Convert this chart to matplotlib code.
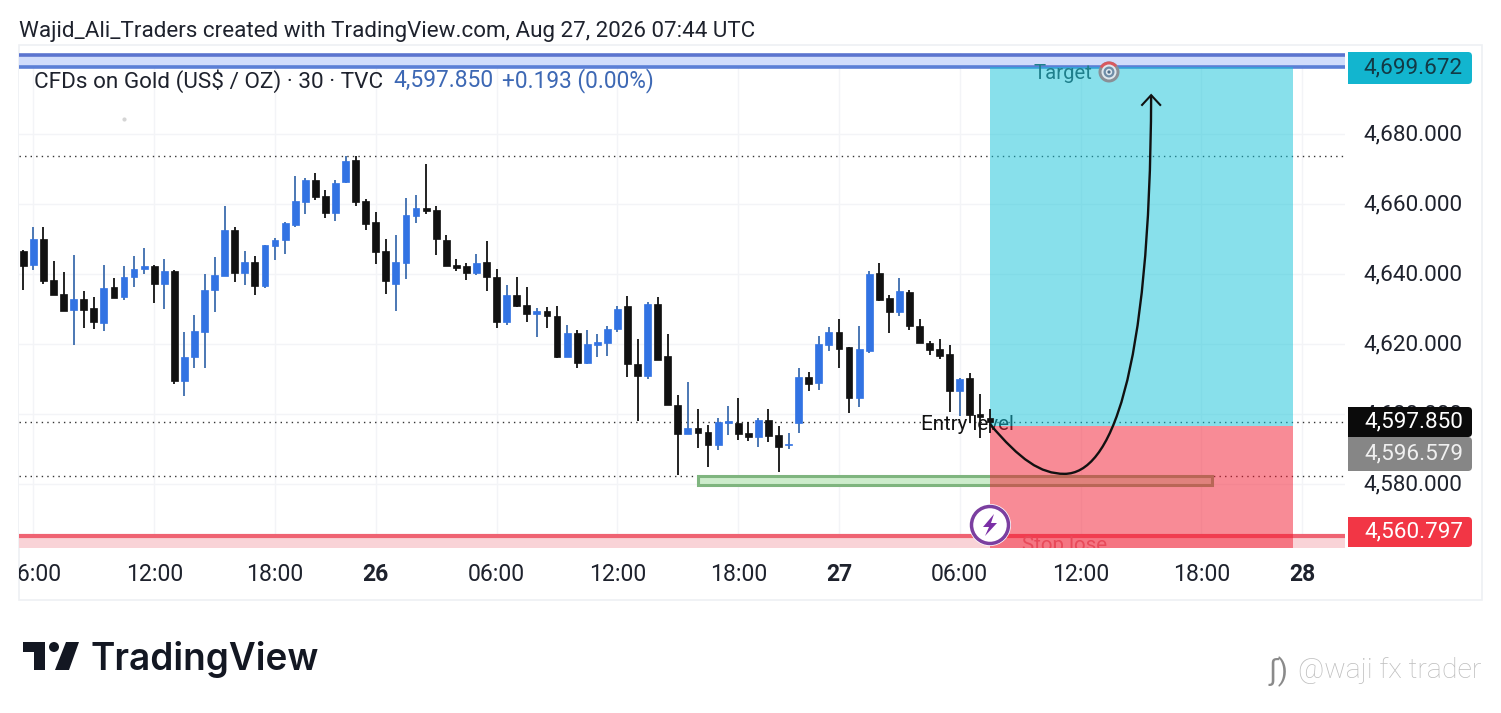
import matplotlib
matplotlib.use("Agg")
import matplotlib.pyplot as plt
from matplotlib.patches import Rectangle, PathPatch, Polygon, Circle, FancyBboxPatch, Wedge
from matplotlib.path import Path
from matplotlib.transforms import Bbox, ScaledTranslation

plt.rcParams['font.family'] = ['Roboto', 'DejaVu Sans']

# candle index, from the first visible 30-minute bar
opens = [4646.6,4642.6,4650.0,4638.3,4634.3,4629.8,4632.9,4630.3,4626.1,4636.3,4633.5,4639.0,4641.3,4642.3,4637.0,4640.9,4609.5,4616.4,4623.5,4635.3,4639.5,4652.6,4640.4,4643.4,4636.7,4648.1,4649.8,4654.1,4660.7,4666.9,4662.3,4657.3,4666.3,
 4672.5,4660.8,4654.8,4646.5,4637.1,4643.1,4656.5,4658.8,4658.3,4649.7,4642.5,4642.3,4640.2,4643.4,4639.1,4626.3,4634.0,4631.1,4628.5,4629.4,4628.0,4616.3,4623.1,4614.5,4619.7,4620.3,4624.3,4630.8,4614.3,4610.8,4631.4,
 4616.6,4602.6,4594.3,4596.0,4594.9,4591.2,4597.5,4597.5,4594.6,4593.5,4598.3,4594.0,4591.0,4597.5,4610.6,4608.9,4619.8,4623.5,4619.2,4604.6,4618.0,4640.3,4633.2,4629.2,4634.9,4625.2,4620.3,4618.6,4617.2,4606.6,4610.3,4600.0,4598.8]
closes = [4642.4,4650.0,4638.1,4634.1,4629.5,4632.9,4629.8,4626.4,4636.0,4633.2,4639.2,4641.4,4642.3,4637.0,4640.9,4609.5,4616.3,4623.7,4635.4,4639.7,4652.6,4640.4,4643.4,4636.7,4648.3,4649.7,4654.6,4660.9,4666.9,4662.1,4657.5,4666.0,4672.3,
 4660.5,4654.3,4646.3,4638.0,4643.4,4656.8,4658.8,4658.0,4650.0,4642.3,4641.7,4640.3,4643.1,4639.1,4626.3,4634.0,4630.8,4628.5,4629.4,4628.0,4616.3,4623.1,4614.5,4620.0,4620.5,4624.3,4630.0,4614.3,4610.8,4631.4,4615.4,
 4602.6,4594.3,4596.0,4594.6,4591.2,4597.8,4597.8,4594.3,4593.5,4598.3,4593.8,4590.6,4591.4,4610.6,4608.6,4620.0,4623.5,4618.6,4604.6,4618.6,4640.0,4632.5,4629.2,4635.2,4625.2,4620.3,4618.3,4616.6,4606.6,4610.0,4599.8,4599.0,4597.85]
highs = [4646.8,4653.5,4653.4,4643.7,4640.6,4645.5,4635.2,4633.4,4642.6,4638.9,4642.4,4645.2,4647.4,4642.5,4644.4,4641.1,4623.4,4628.3,4640.0,4644.9,4659.4,4653.4,4646.7,4645.2,4648.3,4650.4,4654.9,4668.0,4667.4,4668.9,4664.0,4666.9,4673.7,
 4673.7,4661.4,4657.7,4650.0,4651.1,4661.7,4662.5,4671.4,4659.4,4651.1,4644.3,4643.1,4645.7,4649.4,4641.4,4636.8,4639.1,4636.3,4630.3,4630.5,4630.8,4625.4,4624.0,4624.0,4622.8,4625.1,4630.8,4633.7,4621.4,4632.0,4633.4,
 4622.8,4605.5,4609.2,4601.5,4596.9,4598.9,4602.3,4604.6,4597.8,4598.9,4601.5,4596.6,4594.6,4613.2,4612.0,4622.3,4624.9,4627.2,4619.2,4625.2,4640.9,4643.2,4634.0,4638.9,4635.5,4627.2,4620.9,4621.5,4619.8,4610.3,4611.8,4605.8,4601.5]
lows = [4635.4,4641.0,4637.0,4634.1,4629.5,4619.7,4624.6,4624.3,4623.7,4633.0,4632.7,4636.4,4640.0,4631.8,4630.0,4608.6,4605.2,4613.2,4613.2,4629.2,4639.5,4637.7,4636.9,4634.0,4636.1,4644.0,4645.7,4653.3,4657.2,4661.2,4656.0,4655.2,4666.0,
 4659.4,4652.5,4642.8,4634.3,4629.4,4638.5,4654.5,4657.1,4645.4,4642.3,4640.8,4638.3,4639.7,4635.1,4624.5,4625.4,4630.5,4626.3,4622.0,4624.5,4616.0,4616.3,4613.1,4614.3,4616.2,4616.5,4623.4,4610.5,4598.0,4609.9,4615.4,
 4602.5,4582.6,4594.3,4590.3,4584.9,4589.8,4594.0,4592.6,4592.3,4590.6,4592.0,4583.5,4590.0,4594.6,4606.6,4606.9,4618.0,4613.2,4600.3,4602.0,4617.5,4632.3,4623.2,4628.0,4624.0,4620.3,4616.9,4615.8,4600.6,4599.3,4597.5,4593.2,4594.6]
# colour is decided per bar: blue bars were read as rising
rising = [0,1,0,0,0,1,0,0,1,0,1,1,1,0,1,0,1,1,1,1,1,0,1,0,1,1,1,1,1,0,0,1,1,
 0,0,0,0,1,1,1,0,0,0,0,0,1,0,0,1,0,0,1,0,0,1,0,1,1,1,1,0,0,1,0,
 0,0,1,0,0,1,1,0,0,1,0,0,1,1,0,1,1,0,0,1,1,0,0,1,0,0,0,0,0,1,0,0,0]

x_ticks = [1,13,25,35,47,59,71,81,93,105,117,127]
x_labels = ['06:00','12:00','18:00','26','06:00','12:00','18:00','27','06:00','12:00','18:00','28']
bold_labels = ['26','27','28']
y_ticks = [4580,4600,4620,4640,4660,4680]
dotted_levels = [4673.7,4597.7,4582.3]

target_band = (4699.14,4702.6)
stop_band = (4561.71,4565.1)
entry_price = 4596.6
box_span = (96.0,126.1)
zone_span = (67.0,118.0)
zone_prices = (4579.7,4582.3)
curve_x = [96.0,99.0,101.0,103.4,107.9,111.9,112.0]
curve_y = [4597.1,4586.9,4582.9,4582.9,4582.9,4609.7,4691.1]
arrow_x = [111.1,112.0,112.9]
arrow_y = [4688.3,4691.1,4688.3]

W,H = 1501,713
fig = plt.figure(figsize=(W/100,H/100),dpi=100,facecolor='white')
L,R,T,B = 19,1345,53,548
ax = fig.add_axes([L/W,1-B/H,(R-L)/W,(B-T)/H])
ax.set_xlim((L-23.3)/10.07,(R-23.3)/10.07)
ax.set_ylim(4561.71,4703.14)
for s in ax.spines.values():
    s.set_visible(False)
ax.set_axisbelow(True)

ax.set_xticks(x_ticks)
ax.set_xticklabels(x_labels,fontsize=16.6,color='#1e222d')
ax.yaxis.tick_right()
ax.set_yticks(y_ticks)
ax.set_yticklabels([f'{v:,.3f}' for v in y_ticks],fontsize=16.2,color='#1e222d')
ax.tick_params(axis='x',length=0,pad=11)
ax.tick_params(axis='y',length=0,pad=13)
ax.grid(True,color='#f3f4f7',lw=1)
clip = Bbox([[L,0],[W,H]])
for lab in ax.get_xticklabels():
    lab.set_clip_box(clip)
    lab.set_clip_on(True)
    if lab.get_text() in bold_labels:
        lab.set_fontweight('bold')
up_shift = ScaledTranslation(0,0.02,fig.dpi_scale_trans)
for lab in ax.get_yticklabels():
    lab.set_transform(lab.get_transform()+up_shift)

for lv in dotted_levels:
    ax.axhline(lv,color='#333333',lw=1,ls=(0,(1,3)),zorder=1.5)

ax.plot([10.0],[4684.3],marker='o',ms=2,color='#d5d5d5',zorder=1.6)

# bands
ax.axhspan(*target_band,facecolor='#d0dcfb',edgecolor='none',zorder=1)
ax.axhline(target_band[0],color='#5b7fd6',lw=2.6,zorder=3.2)
ax.axhline(target_band[1],color='#5b74cf',lw=2.6,zorder=3.2)
ax.axhspan(*stop_band,facecolor='#f9d3d7',edgecolor='none',zorder=1)
ax.axhline(stop_band[1],color='#ef6373',lw=3,zorder=3.2)

# support zone, seen through the position box
ax.add_patch(Rectangle((zone_span[0],zone_prices[0]),zone_span[1]-zone_span[0],zone_prices[1]-zone_prices[0],
                       facecolor='#cdeccc',edgecolor='#7fb57f',lw=2.2,zorder=3))
ax.text(93.8,4597.0,'Entry level',fontsize=14.8,color='#111111',ha='center',va='center',zorder=3.1)

# position box
ax.add_patch(Rectangle((box_span[0],entry_price),box_span[1]-box_span[0],target_band[0]-entry_price,
                       facecolor='#13c3d9',alpha=0.5,edgecolor='none',zorder=3.5))
ax.add_patch(Rectangle((box_span[0],stop_band[0]),box_span[1]-box_span[0],entry_price-stop_band[0],
                       facecolor='#f3192f',alpha=0.5,edgecolor='none',zorder=3.5))

# candles
for i,(o,h,l,c,up) in enumerate(zip(opens,highs,lows,closes,rising)):
    body = '#3273e3' if up else '#111111'
    wick = '#3d6cae' if up else '#111111'
    ax.plot([i,i],[l,h],color=wick,lw=1.3,solid_capstyle='butt',zorder=4)
    ax.add_patch(Rectangle((i-0.34,min(o,c)),0.68,max(abs(c-o),0.4),facecolor=body,edgecolor=body,lw=0.5,zorder=5))

# projected path
verts = list(zip(curve_x,curve_y))
ax.add_patch(PathPatch(Path(verts,[Path.MOVETO]+[Path.CURVE4]*6),facecolor='none',edgecolor='#111111',lw=1.7,zorder=7))
ax.plot(arrow_x,arrow_y,color='#111111',lw=1.5,zorder=7,solid_joinstyle='miter')

ax.text(103.2,4697.2,'Target',fontsize=14.6,color='#1f7f8c',ha='center',va='center',zorder=8,clip_on=False)
ax.text(103.4,4562.4,'Stop lose',fontsize=14.8,color='#e84a5a',ha='center',va='center',zorder=8,clip_on=True)

ax.text(.0116,.9435,'CFDs on Gold (US$ / OZ) · 30 · TVC',transform=ax.transAxes,fontsize=16.2,color='#1e222d',va='center',zorder=9)
ax.text(.2825,.9435,'4,597.850',transform=ax.transAxes,fontsize=16.4,color='#3d68b4',va='center',zorder=9)
ax.text(.3645,.9435,'+0.193 (0.00%)',transform=ax.transAxes,fontsize=16.3,color='#3d68b4',va='center',zorder=9)

# figure-level pieces, positioned in pixels from the top-left
def px(x,y):
    return x/W,1-y/H

fig.add_artist(Rectangle(px(19,600),(1482-19)/W,(600-45)/H,transform=fig.transFigure,facecolor='none',edgecolor='#eef0f3',lw=1.2,zorder=-1))
fig.text(*px(19,31.5),'Wajid_Ali_Traders created with TradingView.com, Aug 27, 2026 07:44 UTC',fontsize=16.15,color='#1e222d',va='center')

def badge(y0,y1,color,label,tc):
    fig.add_artist(FancyBboxPatch((1348,H-y1),124,y1-y0,transform=None,
        boxstyle='round,pad=0,rounding_size=4',facecolor=color,edgecolor='none',zorder=4))
    fig.add_artist(Rectangle((1348,H-y1),10,y1-y0,transform=None,facecolor=color,edgecolor='none',zorder=4))
    fig.text(*px(1463,(y0+y1)/2),label,fontsize=16.2,color=tc,ha='right',va='center',zorder=5)

badge(437,471,'#868686','4,596.579','#f0f0f0')
badge(407,437,'#0b0b0b','4,597.850','#ffffff')
badge(52,84,'#12b5cf','4,699.672','#123a46')
badge(517,547,'#f23645','4,560.797','#ffffff')

# target glyph
tx,ty = 1109,72
fig.add_artist(Circle((tx,H-ty),10.5,transform=None,facecolor='#8a8f96',edgecolor='none',zorder=6))
fig.add_artist(Wedge((tx,H-ty),10.5,40,150,transform=None,facecolor='#d9595f',edgecolor='none',zorder=6))
for r,c in ((7.5,'#dfe8ee'),(5.5,'#6f8ea8'),(3.2,'#dfe8ee'),(1.6,'#4f6d88')):
    fig.add_artist(Circle((tx,H-ty),r,transform=None,facecolor=c,edgecolor='none',zorder=6))

# lightning badge
cx,cy = 990,525
fig.add_artist(Circle((cx,H-cy),21,transform=None,facecolor='white',edgecolor='none',zorder=6))
fig.add_artist(Circle((cx,H-cy),18.5,transform=None,facecolor='white',edgecolor='#7b3fa0',lw=2.5,zorder=6))
bolt = [(994,514),(983,527),(989,527),(985,536),(997,523),(991,523)]
fig.add_artist(Polygon([(x,H-y) for x,y in bolt],transform=None,facecolor='#7b2fa6',edgecolor='none',zorder=7))

# TradingView wordmark
logo_a = [(23,642),(45,642),(45,670),(34,670),(34,652),(23,652)]
logo_b = [(66,642),(79,642),(69,670),(55,670)]
for pts in (logo_a,logo_b):
    fig.add_artist(Polygon([(x,H-y) for x,y in pts],transform=None,facecolor='#131722',edgecolor='none'))
fig.add_artist(Circle((54,H-647),5,transform=None,facecolor='#131722',edgecolor='none'))
fig.text(*px(91,659),'TradingView',fontsize=26.6,fontweight='semibold',color='#131722',va='center',family=['Inter','DejaVu Sans'])

# watermark
fig.text(*px(1298,670),'@waji fx trader',fontsize=20.4,color='#bdbdbd',va='center',fontweight='light')
fig.text(*px(1268,672),'ʃ)',fontsize=21,color='#8a8a8a',va='center')

fig.savefig('out.png',dpi=100)
